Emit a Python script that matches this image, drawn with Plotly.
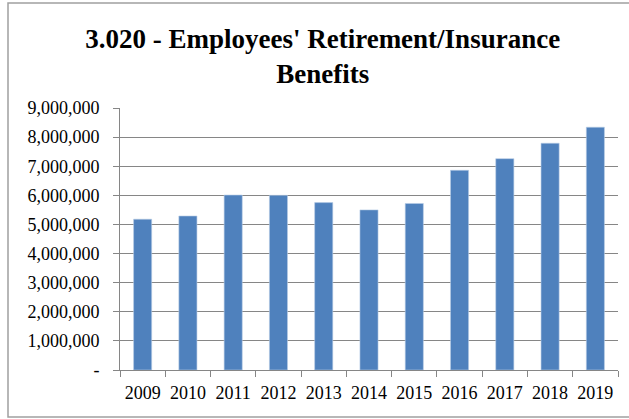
import plotly.graph_objects as go

years = ["2009", "2010", "2011", "2012", "2013", "2014", "2015", "2016", "2017", "2018", "2019"]
benefits = [5180000, 5290000, 6010000, 6000000, 5750000, 5500000, 5720000, 6860000, 7260000, 7790000, 8340000]
y_ticks = [0, 1000000, 2000000, 3000000, 4000000, 5000000, 6000000, 7000000, 8000000, 9000000]
y_tick_text = ["-"] + [f"{v:,}" for v in y_ticks[1:]]

FONT = "Liberation Serif"
GRID = "#868686"

fig = go.Figure(
    go.Bar(
        x=years,
        y=benefits,
        marker=dict(color="#4F81BD", line=dict(color="#b9cde5", width=0.6)),
        width=0.4,
        hoverinfo="x+y",
    )
)

fig.update_layout(
    width=629,
    height=419,
    margin=dict(l=120, r=11, t=108, b=49),
    paper_bgcolor="white",
    plot_bgcolor="white",
    showlegend=False,
    title=dict(
        text="<b>3.020 - Employees' Retirement/Insurance<br>Benefits</b>",
        x=0.513,
        xanchor="center",
        y=0.886,
        yanchor="middle",
        font=dict(family=FONT, size=27, color="black"),
    ),
    font=dict(family=FONT, size=18, color="black"),
    shapes=[
        # chart frame
        dict(
            type="rect", xref="paper", yref="paper",
            x0=-112 / 498, x1=640 / 498, y0=-47 / 262, y1=367 / 262,
            line=dict(color="#a0a0a0", width=1.5), fillcolor="rgba(0,0,0,0)",
        ),
    ],
)

fig.update_xaxes(
    type="category",
    showline=True,
    linecolor=GRID,
    linewidth=1,
    ticks="outside",
    tickson="boundaries",
    ticklen=6,
    tickcolor=GRID,
    showgrid=False,
    ticklabelstandoff=6,
    tickfont=dict(family=FONT, size=18),
)

fig.update_yaxes(
    range=[0, 9000000],
    tickvals=y_ticks,
    ticktext=y_tick_text,
    showline=True,
    linecolor=GRID,
    linewidth=1,
    ticks="outside",
    ticklen=6,
    tickcolor=GRID,
    showgrid=True,
    gridcolor=GRID,
    gridwidth=1,
    zeroline=False,
    ticklabelstandoff=10,
    tickfont=dict(family=FONT, size=18),
)

fig.write_html("out.html")
